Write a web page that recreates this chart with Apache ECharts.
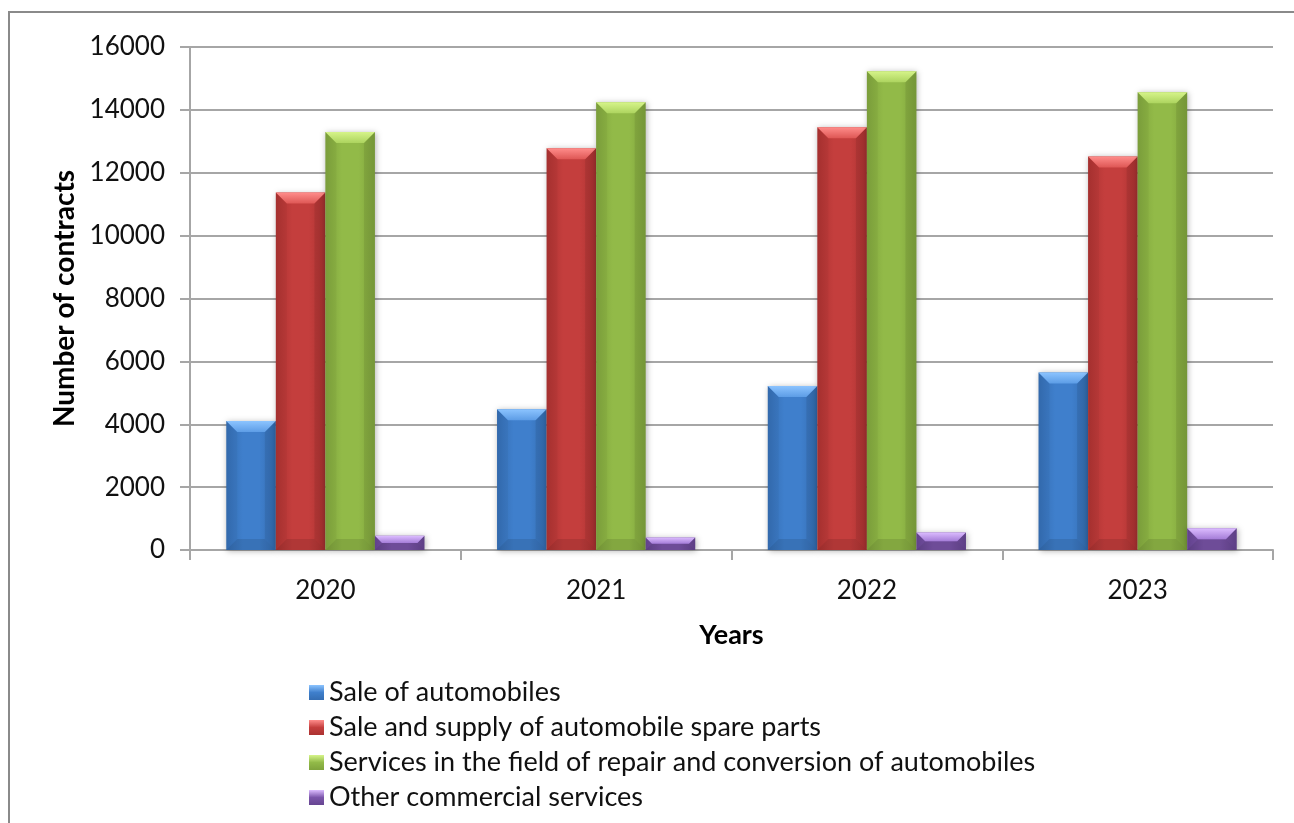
<!DOCTYPE html>
<html>
<head>
<meta charset="utf-8">
<script src="https://cdn.jsdelivr.net/npm/echarts@6/dist/echarts.min.js"></script>
<style>
  html, body { margin: 0; padding: 0; background: #fff; }
  #chart { width: 1294px; height: 823px; }
</style>
</head>
<body>
<div id="chart"></div>
<script>
// Number of contracts by activity type, 2020–2023
const years = ['2020', '2021', '2022', '2023'];
const saleOfAutomobiles = [4100, 4480, 5220, 5650];
const spareParts = [11370, 12780, 13450, 12520];
const repairServices = [13300, 14240, 15230, 14560];
const otherServices = [450, 400, 560, 690];
const yTicks = { min: 0, max: 16000, interval: 2000 };

const seriesNames = [
  'Sale of automobiles',
  'Sale and supply of automobile spare parts',
  'Services in the field of repair and conversion of automobiles',
  'Other commercial services'
];
const seriesValues = [saleOfAutomobiles, spareParts, repairServices, otherServices];

// bevelled bar palettes: body, darker edge, light top cap
const palettes = [
  { body: '#3f7fcc', edge: '#346db2', capTop: '#8cc4ff', cap: '#5d9de6' },
  { body: '#c43e3d', edge: '#ab3231', capTop: '#ff8d8b', cap: '#de5755' },
  { body: '#92ba48', edge: '#7fa33c', capTop: '#d6f48a', cap: '#add45f' },
  { body: '#7b55aa', edge: '#664591', capTop: '#dcbcff', cap: '#a57dd8' }
];

const BAR_FRACTION = 0.183;

function lin(x1, y1, x2, y2, stops) {
  return new echarts.graphic.LinearGradient(x1, y1, x2, y2,
    stops.map((c, i) => ({ offset: i / (stops.length - 1), color: c })));
}

function makeRenderer(sIdx, pal) {
  return function (params, api) {
    const cat = api.value(0);
    const val = api.value(1);
    const base = api.coord([cat, 0]);
    const top = api.coord([cat, val]);
    const band = api.size([1, 0])[0];
    const w = band * BAR_FRACTION;
    const x0 = base[0] - 2 * w + sIdx * w;
    const yT = top[1];
    const yB = base[1];
    const h = yB - yT;
    const b = Math.min(11, h / 2, w / 2);
    return {
      type: 'group',
      children: [
        {
          type: 'rect',
          shape: { x: x0, y: yT, width: w, height: h },
          style: {
            fill: lin(0, 0, 1, 0, [pal.edge, pal.body, pal.body, pal.edge]),
            shadowBlur: 6, shadowColor: 'rgba(0,0,0,0.3)',
            shadowOffsetX: 1, shadowOffsetY: 1
          }
        },
        {
          type: 'polygon',
          shape: { points: [[x0, yT], [x0 + b, yT + b], [x0 + b, yB - b], [x0, yB]] },
          style: { fill: 'rgba(0,0,0,0.03)' }
        },
        {
          type: 'polygon',
          shape: { points: [[x0 + w, yT], [x0 + w - b, yT + b], [x0 + w - b, yB - b], [x0 + w, yB]] },
          style: { fill: 'rgba(0,0,0,0.08)' }
        },
        {
          type: 'polygon',
          shape: { points: [[x0, yB], [x0 + b, yB - b], [x0 + w - b, yB - b], [x0 + w, yB]] },
          style: { fill: 'rgba(0,0,0,0.1)' }
        },
        {
          type: 'polygon',
          shape: { points: [[x0, yT], [x0 + w, yT], [x0 + w - b, yT + b], [x0 + b, yT + b]] },
          style: { fill: lin(0, 0, 0, 1, [pal.capTop, pal.cap]) }
        }
      ]
    };
  };
}

const font = 'Lato, "Open Sans", sans-serif';

const chart = echarts.init(document.getElementById('chart'), null, { renderer: 'canvas' });

chart.setOption({
  backgroundColor: '#ffffff',
  animation: false,
  textStyle: { fontFamily: font, color: '#111' },
  graphic: [{
    type: 'rect',
    z: -10,
    shape: { x: 9, y: 12, width: 1400, height: 900 },
    style: { fill: 'none', stroke: '#8a8a8a', lineWidth: 2 }
  }],
  grid: { left: 190, right: 21, top: 47, bottom: 273, containLabel: false },
  legend: {
    orient: 'vertical',
    left: 304,
    top: 674,
    icon: 'rect',
    itemWidth: 15,
    itemHeight: 15,
    itemGap: 8,
    textStyle: { fontFamily: font, fontSize: 27, color: '#111', lineHeight: 27 },
    data: seriesNames
  },
  xAxis: {
    type: 'category',
    data: years,
    name: 'Years',
    nameLocation: 'middle',
    nameGap: 72,
    nameTextStyle: { fontFamily: font, fontSize: 27, fontWeight: 'bold', color: '#000' },
    axisLine: { lineStyle: { color: '#a6a6a6', width: 2 } },
    axisTick: { show: true, length: 10, lineStyle: { color: '#a6a6a6', width: 2 } },
    axisLabel: { fontSize: 26, color: '#111', margin: 28 },
    splitLine: { show: false }
  },
  yAxis: {
    type: 'value',
    min: yTicks.min,
    max: yTicks.max,
    interval: yTicks.interval,
    name: 'Number of contracts',
    nameLocation: 'middle',
    nameGap: 110,
    nameRotate: 90,
    nameTextStyle: { fontFamily: font, fontSize: 28, fontWeight: 'bold', color: '#000' },
    axisLine: { show: true, lineStyle: { color: '#a6a6a6', width: 2 } },
    axisTick: { show: true, length: 10, lineStyle: { color: '#a6a6a6', width: 2 } },
    axisLabel: { fontSize: 26, color: '#111', margin: 25, formatter: v => String(v) },
    splitLine: { show: true, lineStyle: { color: '#a6a6a6', width: 2 } }
  },
  series: seriesNames.map((name, s) => ({
    name: name,
    type: 'custom',
    renderItem: makeRenderer(s, palettes[s]),
    encode: { x: 0, y: 1 },
    itemStyle: { color: lin(0, 0, 0, 1, [palettes[s].capTop, palettes[s].body, palettes[s].edge]) },
    data: years.map((y, i) => [i, seriesValues[s][i]])
  }))
});
</script>
</body>
</html>
